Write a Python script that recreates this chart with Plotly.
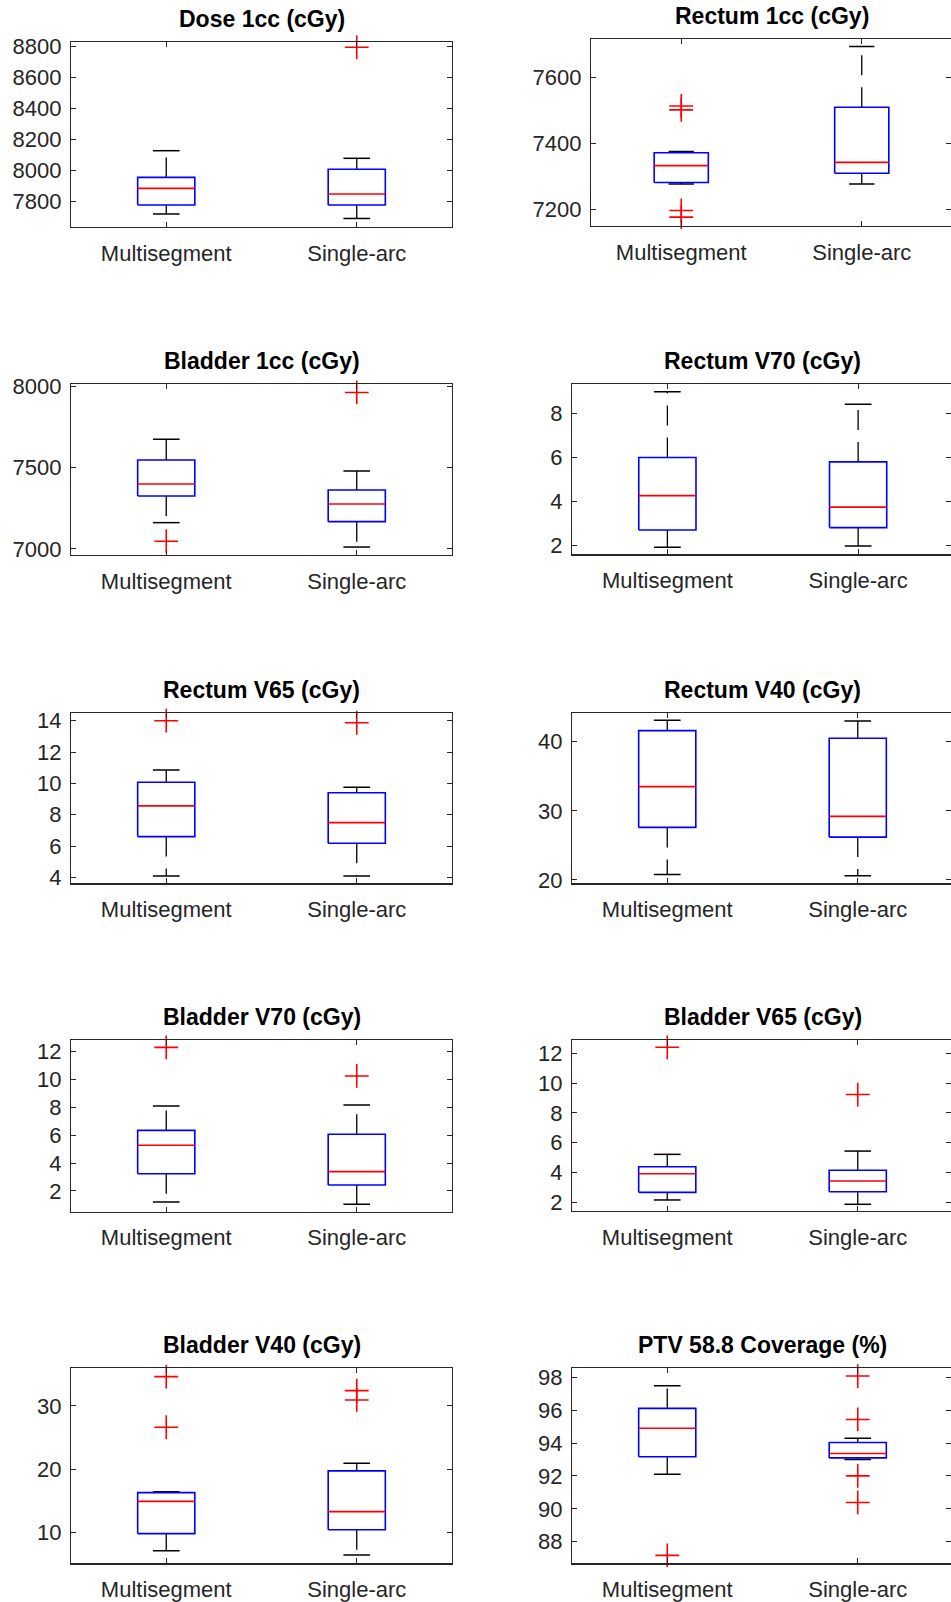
import plotly.graph_objects as go

# ---------------- data ----------------
titles = ["Dose 1cc (cGy)", "Rectum 1cc (cGy)", "Bladder 1cc (cGy)", "Rectum V70 (cGy)",
          "Rectum V65 (cGy)", "Rectum V40 (cGy)", "Bladder V70 (cGy)", "Bladder V65 (cGy)",
          "Bladder V40 (cGy)", "PTV 58.8 Coverage (%)"]
categories = ["Multisegment", "Single-arc"]

multi_lo  = [7721, 7276, 7162, 1.93, 4.08, 20.8, 1.20, 2.16, 7.10, 92.10]
multi_q1  = [7779, 7281, 7326, 2.71, 6.60, 27.6, 3.23, 2.67, 9.80, 93.17]
multi_med = [7886, 7332, 7400, 4.27, 8.56, 33.5, 5.28, 3.92, 14.90, 94.90]
multi_q3  = [7957, 7371, 7547, 6.00, 10.07, 41.6, 6.35, 4.39, 16.28, 96.11]
multi_hi  = [8129, 7375, 7675, 8.98, 10.85, 43.1, 8.10, 5.22, 16.44, 97.49]
multi_out = [[], [7513, 7501, 7196, 7176], [7048], [], [14.0], [], [12.31], [12.4],
             [34.64, 26.63], [87.17]]

single_lo  = [7692, 7276, 7012, 1.99, 4.08, 20.6, 1.05, 1.87, 6.40, 93.00]
single_q1  = [7779, 7309, 7168, 2.82, 6.18, 26.2, 2.43, 2.71, 10.40, 93.10]
single_med = [7850, 7342, 7277, 3.75, 7.49, 29.2, 3.39, 3.43, 13.28, 93.37]
single_q3  = [8009, 7509, 7363, 5.80, 9.40, 40.5, 6.07, 4.15, 19.72, 94.04]
single_hi  = [8080, 7693, 7480, 8.42, 9.75, 43.0, 8.17, 5.44, 20.93, 94.29]
single_out = [[8796], [], [7963], [], [13.87], [], [10.26], [9.23],
              [32.42, 30.95], [98.08, 95.44, 92.01, 90.39]]

y_ranges = [[7637, 8830], [7149, 7715], [6963, 8013], [1.61, 9.32], [3.62, 14.51],
            [19.52, 44.1], [0.51, 12.84], [1.42, 12.89], [5.1, 35.96], [86.69, 98.55]]
y_dticks = [200, 200, 500, 2, 2, 10, 2, 2, 10, 2]

# ---------------- layout geometry (pixels) ----------------
W, H = 951, 1602
x_px = [[71, 452], [591, 952], [71, 452], [572, 953.5], [71, 452], [572, 953],
        [71, 452], [572, 953], [71, 452], [572, 953]]
y_px = [[42, 227], [39.3, 226], [384.3, 555], [384.3, 554.3], [712.7, 883.3],
        [713.3, 883.3], [1040, 1211.7], [1040, 1211], [1368.3, 1563.3], [1368.3, 1563.3]]

FONT = "Liberation Sans, Arial, Helvetica, sans-serif"
TXT = "#262626"
BOX_HW = 0.15
CAP_HW = 0.07

fig = go.Figure()
layout = dict(width=W, height=H, margin=dict(l=0, r=0, t=0, b=0, autoexpand=False),
              paper_bgcolor="white", plot_bgcolor="white", showlegend=False,
              font=dict(family=FONT, size=22, color=TXT))
annotations = []

for i in range(10):
    xa = "x" if i == 0 else f"x{i+1}"
    ya = "y" if i == 0 else f"y{i+1}"
    stats = [
        (1, multi_lo[i], multi_q1[i], multi_med[i], multi_q3[i], multi_hi[i], multi_out[i]),
        (2, single_lo[i], single_q1[i], single_med[i], single_q3[i], single_hi[i], single_out[i]),
    ]
    bx, by, mx, my, wx, wy, cx, cy, ox, oy = [], [], [], [], [], [], [], [], [], []
    for c, lo, q1, med, q3, hi, outs in stats:
        bx += [c - BOX_HW, c + BOX_HW, c + BOX_HW, c - BOX_HW, c - BOX_HW, None]
        by += [q1, q1, q3, q3, q1, None]
        mx += [c - BOX_HW, c + BOX_HW, None]
        my += [med, med, None]
        wx += [c, c, None, c, c, None]
        wy += [q3, hi, None, q1, lo, None]
        cx += [c - CAP_HW, c + CAP_HW, None, c - CAP_HW, c + CAP_HW, None]
        cy += [hi, hi, None, lo, lo, None]
        ox += [c] * len(outs)
        oy += list(outs)
    common = dict(xaxis=xa, yaxis=ya, hoverinfo="skip", cliponaxis=False)
    fig.add_trace(go.Scatter(x=wx, y=wy, mode="lines",
                             line=dict(color="black", width=1.3, dash="20px,12px"), **common))
    fig.add_trace(go.Scatter(x=cx, y=cy, mode="lines",
                             line=dict(color="black", width=1.5), **common))
    fig.add_trace(go.Scatter(x=bx, y=by, mode="lines",
                             line=dict(color="#0000ff", width=1.6), **common))
    fig.add_trace(go.Scatter(x=mx, y=my, mode="lines",
                             line=dict(color="#ff0000", width=1.6), **common))
    fig.add_trace(go.Scatter(x=ox, y=oy, mode="markers",
                             marker=dict(symbol="cross-thin", size=17,
                                         line=dict(color="#ff0000", width=1.6)), **common))

    l, r = x_px[i]
    t, b = y_px[i]
    ppu = (r - l) / 2.0
    r_vis = min(r, W)
    xmax = 0.5 + (r_vis - l) / ppu
    xkey = "xaxis" if i == 0 else f"xaxis{i+1}"
    ykey = "yaxis" if i == 0 else f"yaxis{i+1}"
    layout[xkey] = dict(domain=[l / W, r_vis / W], anchor=ya, range=[0.5, xmax],
                        tickvals=[1, 2], ticktext=categories, ticks="inside", ticklen=5,
                        tickcolor=TXT, showline=True, linecolor=TXT, linewidth=1.2,
                        mirror="ticks", showgrid=False, zeroline=False, automargin=False,
                        ticklabelstandoff=6, tickfont=dict(size=22, color=TXT))
    layout[ykey] = dict(domain=[1 - b / H, 1 - t / H], anchor=xa, range=y_ranges[i],
                        dtick=y_dticks[i], tick0=0, ticks="inside", ticklen=5,
                        tickcolor=TXT, showline=True, linecolor=TXT, linewidth=1.2,
                        mirror="ticks", showgrid=False, zeroline=False, automargin=False,
                        ticklabelstandoff=4, tickfont=dict(size=22, color=TXT))
    annotations.append(dict(text="<b>" + titles[i] + "</b>", xref="paper", yref="paper",
                            x=((l + r) / 2) / W, y=1 - t / H, xanchor="center",
                            yanchor="bottom", yshift=8, showarrow=False,
                            font=dict(family=FONT, size=23, color="black")))

layout["annotations"] = annotations
fig.update_layout(**layout)
fig.write_html("out.html",
               config={"displayModeBar": False, "staticPlot": True},
               post_script="document.body.style.margin='0';document.body.style.padding='0';"
                           "document.body.style.overflow='hidden';"
                           "document.documentElement.style.overflow='hidden';")
